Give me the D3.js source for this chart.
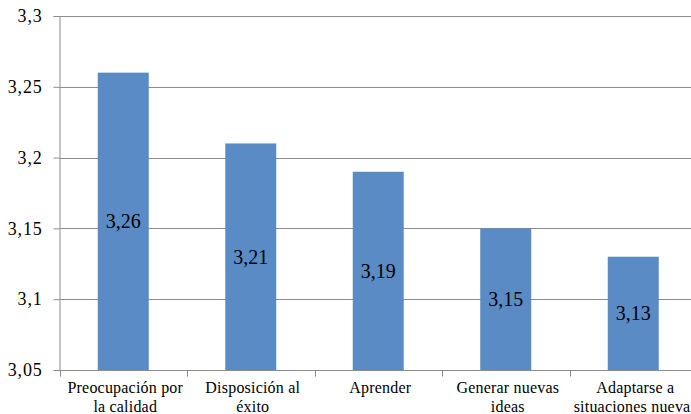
<!DOCTYPE html>
<html>
<head>
	<meta charset="utf-8">
	<script src="https://cdnjs.cloudflare.com/ajax/libs/d3/7.8.5/d3.min.js"></script>
	<style>
		body { margin: 0; background: #fff; }
	</style>
</head>
<body>
	<svg id="chart" width="691" height="414"></svg>
	<script>
		var categories = ["Preocupación por la calidad", "Disposición al éxito", "Aprender", "Generar nuevas ideas", "Adaptarse a situaciones nuevas"];
		var labelLines = [["Preocupación por", "la calidad"], ["Disposición al", "éxito"], ["Aprender"], ["Generar nuevas", "ideas"], ["Adaptarse a", "situaciones nuevas"]];
		var values = [3.26, 3.21, 3.19, 3.15, 3.13];
		var yTicks = [3.05, 3.1, 3.15, 3.2, 3.25, 3.3];

		var serif = "'Liberation Serif'";
		var plotLeft = 59.5, plotTop = 16, plotBottom = 370, bandW = 127.5;
		var svg = d3.select("#chart");

		var x = d3.scaleBand().domain(categories).range([plotLeft, plotLeft + bandW * categories.length]).paddingInner(0.6).paddingOuter(0.3);
		var y = d3.scaleLinear().domain([3.05, 3.3]).range([plotBottom, plotTop]);
		var fmt = function(v){ return String(+v.toFixed(2)).replace(".", ","); };

		// gridlines
		svg.append("g").selectAll("line").data(yTicks.slice(1)).enter().append("line")
			.attr("x1", plotLeft).attr("x2", 691)
			.attr("y1", function(d){ return Math.round(y(d)) + 0.5; })
			.attr("y2", function(d){ return Math.round(y(d)) + 0.5; })
			.attr("stroke", "#8c8c8c").attr("stroke-width", 1);

		// y axis
		var yAxis = svg.append("g").attr("transform", "translate(" + plotLeft + ",0)")
			.call(d3.axisLeft(y).tickValues(yTicks).tickSize(6).tickPadding(11).tickFormat(fmt));
		yAxis.select(".domain").attr("stroke", "#8c8c8c");
		yAxis.selectAll(".tick line").attr("stroke", "#8c8c8c");
		yAxis.selectAll(".tick text").attr("fill", "#000")
			.style("font-family", serif).style("font-size", "18px").style("letter-spacing", "0.8px");

		// bars
		svg.append("g").selectAll("rect").data(values).enter().append("rect")
			.attr("x", function(d, i){ return x(categories[i]); })
			.attr("y", function(d){ return y(d); })
			.attr("width", x.bandwidth())
			.attr("height", function(d){ return plotBottom - y(d); })
			.attr("fill", "#5b8bc5");

		// value labels
		svg.append("g").selectAll("text").data(values).enter().append("text")
			.attr("x", function(d, i){ return x(categories[i]) + x.bandwidth() / 2; })
			.attr("y", function(d){ return (y(d) + plotBottom) / 2; })
			.attr("dy", "0.35em")
			.attr("text-anchor", "middle")
			.style("font-family", serif).style("font-size", "20px")
			.text(fmt);

		// x axis
		var xAxis = svg.append("g").attr("transform", "translate(0," + (plotBottom + 0.5) + ")");
		xAxis.append("line").attr("x1", plotLeft).attr("x2", 691).attr("stroke", "#8c8c8c");
		xAxis.selectAll(".tk").data(d3.range(categories.length + 1)).enter().append("line")
			.attr("x1", function(i){ return Math.round(plotLeft + i * bandW) + 0.5; })
			.attr("x2", function(i){ return Math.round(plotLeft + i * bandW) + 0.5; })
			.attr("y1", 0).attr("y2", 6).attr("stroke", "#8c8c8c");
		var lbl = xAxis.selectAll(".lbl").data(labelLines).enter().append("text")
			.attr("text-anchor", "middle")
			.style("font-family", serif).style("font-size", "16px").style("letter-spacing", "0.2px")
			.attr("transform", function(d, i){ return "translate(" + (x(categories[i]) + x.bandwidth() / 2 + 2) + ",22.5)"; });
		lbl.selectAll("tspan").data(function(d){ return d; }).enter().append("tspan")
			.attr("x", 0).attr("dy", function(d, j){ return j == 0 ? 0 : 18.5; })
			.text(function(d){ return d; });
	</script>
</body>
</html>
